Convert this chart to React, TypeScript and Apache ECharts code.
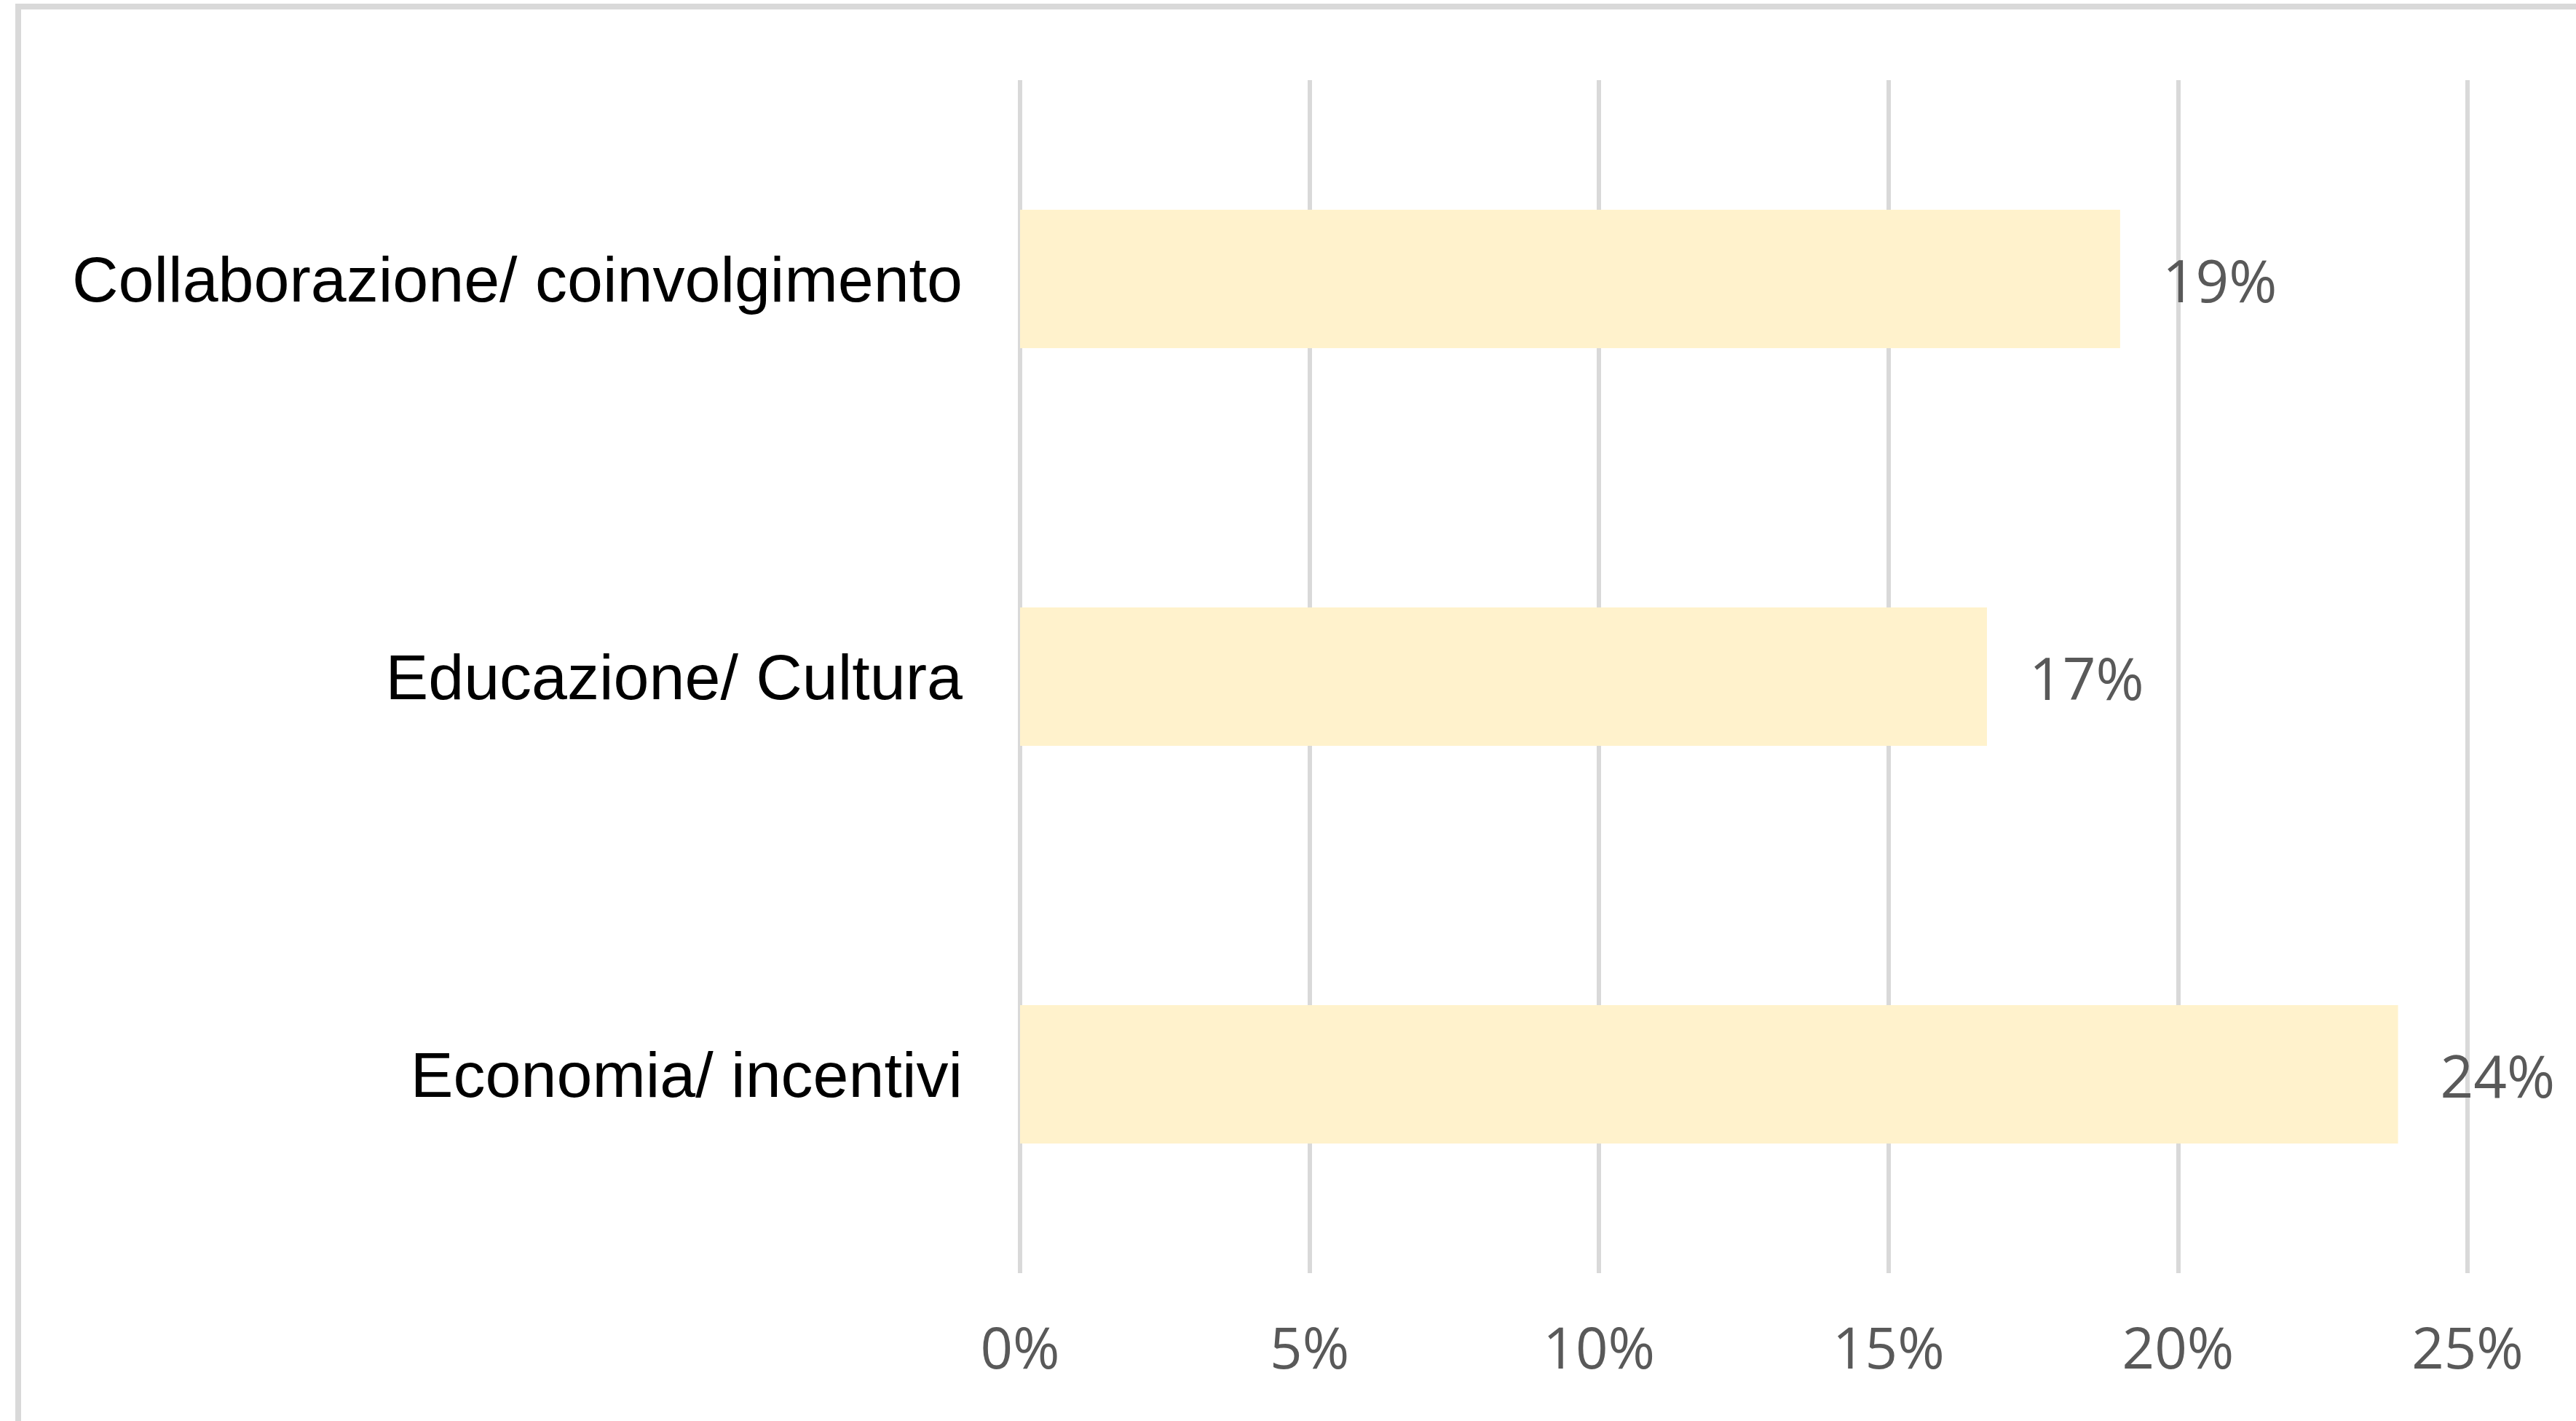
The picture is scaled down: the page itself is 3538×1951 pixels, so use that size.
import React, { useEffect, useRef } from "react";
import * as echarts from "echarts";

const categories = ["Collaborazione/ coinvolgimento", "Educazione/ Cultura", "Economia/ incentivi"];
const values = [19.0, 16.7, 23.8];
const valueLabels = ["19%", "17%", "24%"];
const xTicks = [0, 5, 10, 15, 20, 25];

export default function App() {
  const ref = useRef<HTMLDivElement>(null);
  useEffect(() => {
    if (!ref.current) return;
    const chart = echarts.init(ref.current, null, { renderer: "svg" });
    chart.setOption({
      animation: false,
      backgroundColor: "#ffffff",
      graphic: [
        {
          type: "rect",
          shape: { x: 25, y: 9, width: 3600, height: 2100 },
          style: { fill: "none", stroke: "#d9d9d9", lineWidth: 8 },
          silent: true,
        },
      ],
      grid: { left: 1401, right: 149, top: 110, bottom: 203, containLabel: false },
      xAxis: {
        type: "value",
        min: xTicks[0],
        max: xTicks[xTicks.length - 1],
        interval: 5,
        axisLine: { show: false },
        axisTick: { show: false },
        splitLine: { show: true, lineStyle: { color: "#d9d9d9", width: 6 } },
        axisLabel: {
          formatter: "{value}%",
          color: "#595959",
          fontSize: 78,
          fontFamily: "Open Sans",
          margin: 62,
        },
      },
      yAxis: {
        type: "category",
        inverse: true,
        data: categories,
        axisLine: { show: false },
        axisTick: { show: false },
        splitLine: { show: false },
        axisLabel: {
          color: "#000000",
          fontSize: 88,
          fontFamily: "Liberation Sans",
          margin: 79,
        },
      },
      series: [
        {
          type: "bar",
          data: values,
          barWidth: 190,
          itemStyle: { color: "#FFF2CC" },
          label: {
            show: true,
            position: "right",
            distance: 58,
            color: "#595959",
            fontSize: 80,
            fontFamily: "Open Sans",
            formatter: (p: any) => valueLabels[p.dataIndex],
          },
        },
      ],
    });
    return () => chart.dispose();
  }, []);
  return (
    <div
      ref={ref}
      style={{ position: "fixed", left: 0, top: 0, width: 3538, height: 1951 }}
    />
  );
}
